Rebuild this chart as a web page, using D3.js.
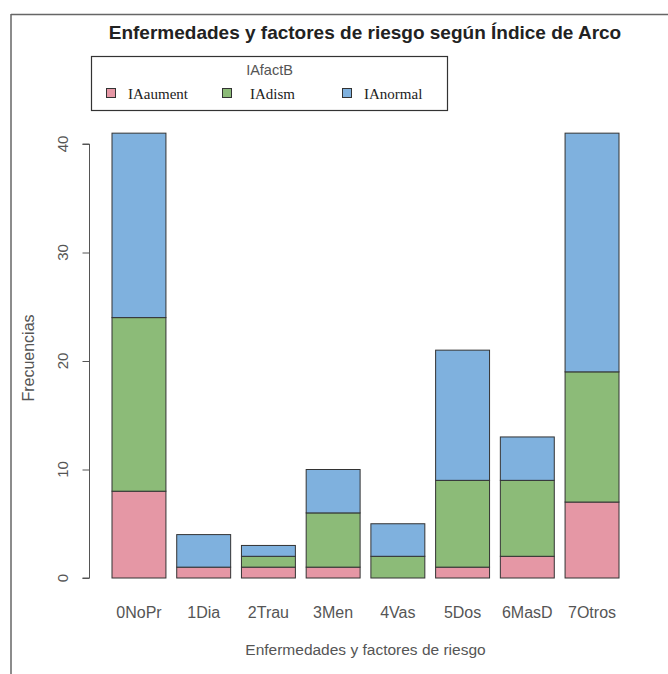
<!DOCTYPE html>
<html>
<head>
<meta charset="utf-8">
<script src="https://cdn.jsdelivr.net/npm/d3@7"></script>
<style>
  html, body { margin: 0; padding: 0; background: #fff; }
  svg { display: block; }
</style>
</head>
<body>
<script>
const categories = ["0NoPr", "1Dia", "2Trau", "3Men", "4Vas", "5Dos", "6MasD", "7Otros"];
const seriesNames = ["IAaument", "IAdism", "IAnormal"];
const IAaument = [8, 1, 1, 1, 0, 1, 2, 7];
const IAdism   = [16, 0, 1, 5, 2, 8, 7, 12];
const IAnormal = [17, 3, 1, 4, 3, 12, 4, 22];
const yTicks = [0, 10, 20, 30, 40];
const colors = ["#E597A5", "#8CBB78", "#7FB1DE"];

const W = 668, H = 674;
const svg = d3.select("body").append("svg").attr("width", W).attr("height", H);

// outer frame (top + left)
svg.append("line").attr("x1", 11).attr("x2", W).attr("y1", 14.5).attr("y2", 14.5)
  .attr("stroke", "#666").attr("stroke-width", 1.5);
svg.append("line").attr("x1", 11).attr("x2", 11).attr("y1", 14).attr("y2", H)
  .attr("stroke", "#666").attr("stroke-width", 1.5);

const rows = categories.map((c, i) => ({cat: c, IAaument: IAaument[i], IAdism: IAdism[i], IAnormal: IAnormal[i]}));
const stack = d3.stack().keys(seriesNames)(rows);

const x = d3.scaleBand().domain(categories).range([112, 619]).paddingInner(1/6).paddingOuter(0);
const y = d3.scaleLinear().domain([0, 40]).range([578, 144]);

// bars
svg.append("g").selectAll("g").data(stack).join("g")
  .attr("fill", (d, i) => colors[i])
  .selectAll("rect").data(d => d).join("rect")
  .attr("x", d => x(d.data.cat))
  .attr("width", x.bandwidth())
  .attr("y", d => y(d[1]))
  .attr("height", d => y(d[0]) - y(d[1]))
  .attr("stroke", "#333").attr("stroke-width", 1);

// y axis
const yAxis = svg.append("g").attr("transform", "translate(89.5,0)")
  .call(d3.axisLeft(y).tickValues(yTicks).tickSize(7).tickFormat(d3.format("d")));
yAxis.select(".domain").attr("stroke", "#555").attr("d", `M-7,${y(0)}H0V${y(40)}H-7`);
yAxis.selectAll(".tick line").attr("stroke", "#555");
yAxis.selectAll(".tick text").remove();
svg.append("g").selectAll("text").data(yTicks).join("text")
  .attr("transform", d => `translate(68,${y(d)}) rotate(-90)`)
  .attr("text-anchor", "middle")
  .attr("font-family", "Arial, 'Liberation Sans', sans-serif")
  .attr("font-size", 15).attr("fill", "#555")
  .text(d => d);

// x labels
svg.append("g").selectAll("text").data(categories).join("text")
  .attr("x", d => x(d) + x.bandwidth() / 2)
  .attr("y", 618)
  .attr("text-anchor", "middle")
  .attr("font-family", "Arial, 'Liberation Sans', sans-serif")
  .attr("font-size", 16).attr("fill", "#555")
  .text(d => d);

// axis titles
svg.append("text").attr("x", 365.5).attr("y", 655)
  .attr("text-anchor", "middle")
  .attr("font-family", "Arial, 'Liberation Sans', sans-serif")
  .attr("font-size", 15.5).attr("fill", "#555")
  .text("Enfermedades y factores de riesgo");
svg.append("text").attr("transform", "translate(34,358) rotate(-90)")
  .attr("text-anchor", "middle")
  .attr("font-family", "Arial, 'Liberation Sans', sans-serif")
  .attr("font-size", 16).attr("fill", "#555")
  .text("Frecuencias");

// title
svg.append("text").attr("x", 365).attr("y", 39)
  .attr("text-anchor", "middle")
  .attr("font-family", "Arial, 'Liberation Sans', sans-serif")
  .attr("font-size", 19).attr("font-weight", "bold").attr("fill", "#222")
  .text("Enfermedades y factores de riesgo según Índice de Arco");

// legend
const lg = svg.append("g");
lg.append("rect").attr("x", 91.5).attr("y", 56.5).attr("width", 356).attr("height", 54)
  .attr("fill", "#fff").attr("stroke", "#333").attr("stroke-width", 1.2);
lg.append("text").attr("x", 269.5).attr("y", 75)
  .attr("text-anchor", "middle")
  .attr("font-family", "Arial, 'Liberation Sans', sans-serif")
  .attr("font-size", 14.5).attr("fill", "#555")
  .text("IAfactB");
const legX = [106, 222, 342];
const items = lg.selectAll("g.item").data(seriesNames).join("g").attr("class", "item")
  .attr("transform", (d, i) => `translate(${legX[i]},0)`);
items.append("rect").attr("x", 0.5).attr("y", 88.5).attr("width", 9).attr("height", 9)
  .attr("fill", (d, i) => colors[i]).attr("stroke", "#333").attr("stroke-width", 1);
items.append("text").attr("x", (d, i) => i === 1 ? 28 : 22).attr("y", 98.5)
  .attr("font-family", "'Liberation Serif', 'Times New Roman', serif")
  .attr("font-size", 15).attr("fill", "#222")
  .text(d => d);
</script>
</body>
</html>
